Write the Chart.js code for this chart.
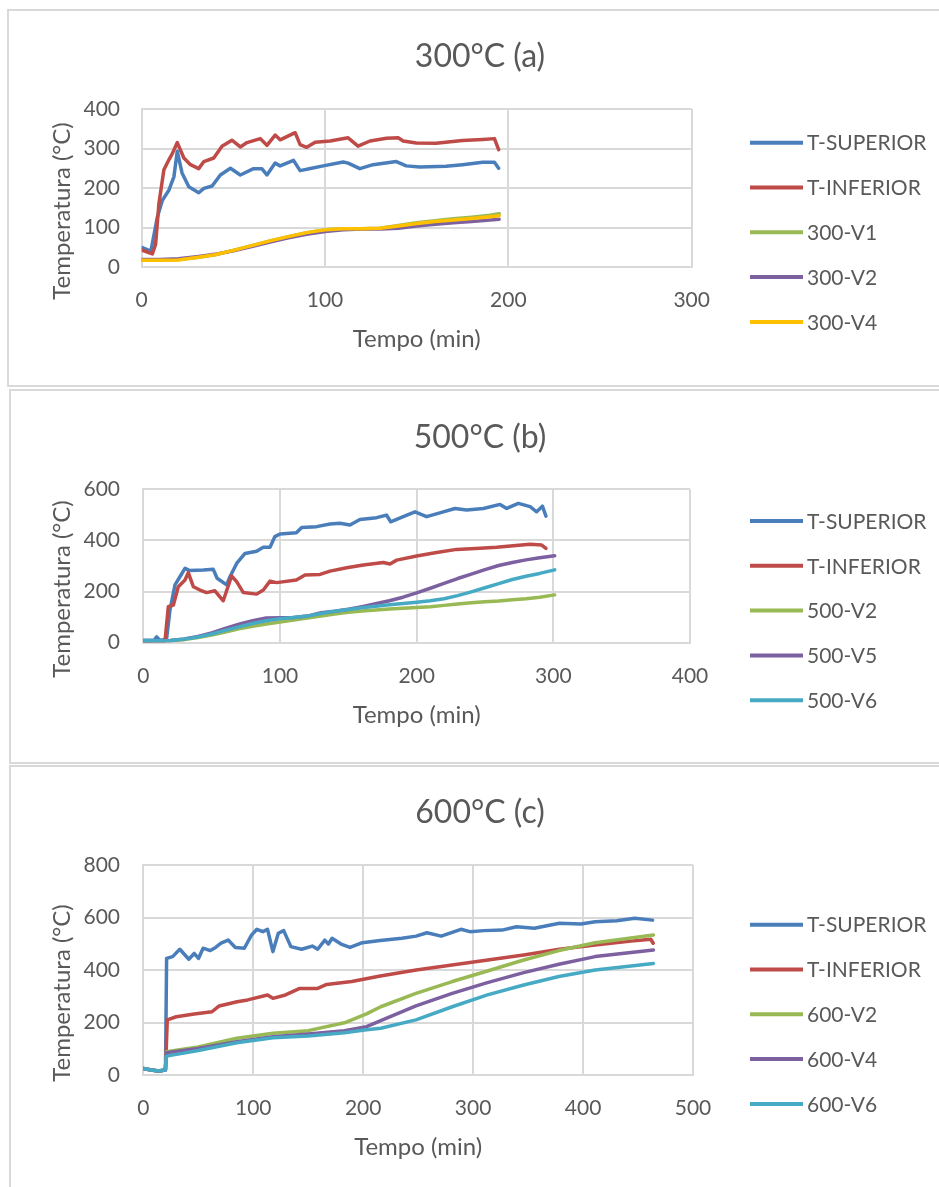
<!DOCTYPE html>
<html>
<head>
<meta charset="utf-8">
<title>Temperatura x Tempo</title>
<script src="https://cdn.jsdelivr.net/npm/chart.js@4.4.1/dist/chart.umd.min.js"></script>
<style>
  body { margin: 0; background: #fff; width: 939px; height: 1187px; overflow: hidden; position: relative; }
  .panel { position: absolute; border: 2px solid #d9d9d9; box-sizing: border-box; width: 1000px; }
  canvas { position: absolute; left: 0; }
</style>
</head>
<body>
<div class="panel" style="left:7px;top:9px;height:378px"></div>
<div class="panel" style="left:9px;top:389px;height:375px"></div>
<div class="panel" style="left:9px;top:765px;height:500px"></div>
<canvas id="c300" width="939" height="385" style="top:0"></canvas>
<canvas id="c500" width="939" height="375" style="top:387px"></canvas>
<canvas id="c600" width="939" height="423" style="top:764px"></canvas>
<script>
// ---- 300°C (a) ----
const t300Sup = [0, 5, 8.5, 11.3, 14.9, 17.6, 19.4, 22, 25.7, 31.1, 33.9, 38.4, 42.9, 48.4, 53.8, 61, 65.5, 68.3, 72.8, 75.5, 82.8, 86.4, 92.7, 99, 109.9, 112.6, 119, 126.2, 138.9, 144.3, 151.6, 166, 175, 186, 192.4, 194.7];
const v300Sup = [50, 40, 126, 169, 195, 229, 293, 238, 203, 188, 199, 205, 233, 250, 233, 249, 249, 233, 263, 256, 270, 244, 250, 256, 266, 263, 249, 259, 267, 256, 253, 255, 259, 265, 265, 250];
const t300Inf = [0, 5.8, 7.6, 9.4, 12.1, 14.9, 16.7, 19.4, 23, 26.6, 31.1, 33.9, 39.3, 43.8, 49.2, 53.8, 57.4, 64.7, 68.3, 72.8, 75.5, 83.7, 86.4, 90, 94.6, 102.7, 112.6, 118, 124.5, 133.5, 139.9, 142.6, 149.8, 160.6, 175, 186, 192.4, 194.7];
const v300Inf = [43, 33, 58, 161, 246, 272, 287, 315, 276, 259, 249, 267, 276, 306, 321, 304, 315, 325, 308, 334, 322, 340, 310, 303, 316, 319, 327, 306, 319, 326, 327, 319, 314, 313, 320, 323, 325, 297];
const t300V = [0, 10, 20, 30, 40, 50, 60, 70, 80, 90, 100, 110, 120, 130, 140, 150, 160, 170, 180, 190, 195];
const v300V1 = [18, 18, 19, 24, 31, 42, 54, 66, 77, 87, 94, 97, 97, 98, 105, 112, 117, 122, 126, 131, 135];
const v300V2 = [19, 19, 21, 26, 32, 41, 52, 63, 74, 83, 90, 94, 96, 96, 98, 104, 108, 112, 115, 119, 121];
const v300V4 = [17, 17, 18, 24, 31, 42, 54, 66, 77, 87, 94, 97, 97, 98, 104, 110, 115, 119, 123, 127, 130];

// ---- 500°C (b) ----
const t500Sup = [0, 8, 9.8, 12, 17, 19.5, 23.2, 26.8, 30.5, 34, 43.9, 51.2, 54, 61, 63.4, 68.3, 74.4, 82.9, 87.8, 92.7, 96.3, 100, 112, 115.9, 126.8, 136.6, 143.9, 151.2, 158.5, 170.7, 178, 181, 190.2, 198.8, 207.3, 217, 228, 236.6, 248.8, 261, 265.9, 274.4, 283, 287.8, 292, 294.6];
const v500Sup = [10, 10, 23, 10, 13, 128, 226, 258, 291, 282, 284, 287, 252, 226, 258, 310, 349, 358, 373, 373, 415, 425, 430, 451, 454, 464, 467, 460, 482, 489, 499, 473, 493, 512, 493, 508, 525, 519, 525, 541, 525, 545, 532, 512, 534, 495];
const t500Inf = [0, 15.9, 18.3, 22, 25.6, 30.5, 32.9, 36.6, 41.5, 46.3, 52.4, 58.5, 64.6, 68.3, 73.2, 82.9, 87.8, 92.7, 97.6, 112, 118.3, 129.3, 136.6, 148.8, 161, 175.6, 180.5, 185.4, 200, 214.6, 229.3, 246.3, 258.5, 270.7, 283, 291.5, 294.6];
const v500Inf = [8, 8, 141, 147, 219, 245, 274, 219, 206, 196, 203, 164, 261, 239, 196, 190, 206, 241, 235, 245, 265, 267, 280, 293, 304, 314, 308, 323, 339, 353, 365, 369, 373, 379, 385, 382, 369];
const t500V = [0, 20, 30, 40, 50, 60, 70, 80, 90, 100, 110, 120, 130, 140, 150, 160, 170, 180, 190, 200, 210, 220, 230, 240, 250, 260, 270, 280, 290, 301];
const v500V2 = [8, 9, 12, 20, 30, 42, 54, 64, 73, 81, 89, 97, 104, 112, 119, 124, 128, 132, 135, 138, 141, 146, 151, 156, 160, 163, 168, 172, 178, 187];
const v500V5 = [8, 9, 15, 24, 38, 56, 72, 86, 97, 98, 99, 104, 117, 123, 131, 141, 152, 164, 178, 195, 213, 232, 251, 268, 286, 302, 314, 324, 332, 340];
const v500V6 = [8, 9, 14, 22, 34, 48, 62, 75, 86, 94, 99, 104, 114, 123, 130, 137, 143, 148, 153, 158, 164, 172, 184, 199, 215, 231, 247, 260, 271, 285];

// ---- 600°C (c) ----
const t600Sup = [0, 7.2, 13.7, 20.2, 21.2, 26.7, 33.2, 41.4, 46.3, 50.2, 54.4, 60.9, 65.8, 70.7, 77.2, 83.7, 91.9, 98.4, 103.3, 108.8, 113, 117.9, 122.8, 127.7, 134.2, 144, 153.7, 158.6, 165.1, 168.4, 171.7, 179.8, 188, 199.3, 215.6, 235.2, 248.2, 258, 271, 288.9, 297, 310, 326.4, 339.4, 355.7, 378.5, 398, 411, 430.6, 447, 463.2];
const v600Sup = [25, 19, 15, 19, 444, 451, 479, 441, 463, 444, 483, 474, 486, 502, 514, 486, 483, 533, 555, 546, 555, 470, 540, 550, 489, 479, 491, 479, 514, 499, 521, 499, 486, 504, 512, 521, 529, 542, 529, 555, 546, 550, 552, 565, 559, 578, 575, 584, 588, 597, 590];
const t600Inf = [0, 7.2, 13.7, 20.2, 21.8, 30, 46.3, 62.5, 69, 85.3, 95, 113, 117.9, 129.3, 142.3, 158.6, 166.8, 189.6, 215.6, 248.2, 280.8, 313.4, 346, 378.5, 411, 443.6, 461.6, 463.8];
const v600Inf = [25, 19, 15, 19, 210, 222, 232, 241, 263, 279, 286, 305, 292, 305, 330, 330, 345, 356, 377, 400, 419, 438, 457, 479, 495, 510, 517, 502];
const t600V = [0, 7, 14, 20, 21, 50, 85, 118, 150, 183, 203, 216, 248, 281, 313, 346, 378, 411, 464];
const v600V2 = [25, 19, 15, 19, 89, 107, 140, 159, 169, 199, 233, 260, 311, 356, 396, 438, 474, 504, 533];
const v600V4 = [25, 19, 15, 19, 85, 101, 127, 146, 156, 169, 184, 207, 263, 311, 352, 390, 422, 451, 476];
const v600V6 = [25, 19, 15, 19, 72, 93, 123, 142, 149, 161, 172, 178, 210, 260, 305, 343, 375, 400, 425];

const BLUE = '#4a7ebb', RED = '#be4b48', GREEN = '#98b954', PURPLE = '#7d60a0', YELLOW = '#ffc000', CYAN = '#46aac5';
const TEXT = '#595959', GRID = '#d9d9d9';
const FONT = 'Lato, "Open Sans", sans-serif';

function pts(ts, vs) {
  return ts.map((t, i) => ({ x: t, y: vs[i] }));
}

function series(label, color, ts, vs, i) {
  return { label, data: pts(ts, vs), borderColor: color, backgroundColor: color, order: -i };
}

// title, y axis title and legend drawn on top of the chart
const decor = {
  id: 'decor',
  afterDraw(chart, args, o) {
    const ctx = chart.ctx, a = chart.chartArea;
    ctx.save();
    ctx.fillStyle = TEXT;
    ctx.textAlign = 'center';
    ctx.textBaseline = 'middle';
    ctx.font = '32px ' + FONT;
    ctx.fillText(o.title, 480, a.top - 52);

    ctx.save();
    ctx.translate(62, (a.top + a.bottom) / 2 + 23);
    ctx.rotate(-Math.PI / 2);
    ctx.font = '24px ' + FONT;
    ctx.fillText('Temperatura (°C)', 0, 0);
    ctx.restore();

    ctx.textAlign = 'left';
    ctx.font = '21px ' + FONT;
    chart.data.datasets.forEach((ds, i) => {
      const y = o.legendTop + i * 44.8;
      ctx.strokeStyle = ds.borderColor;
      ctx.lineWidth = 4;
      ctx.beginPath();
      ctx.moveTo(750, y);
      ctx.lineTo(803, y);
      ctx.stroke();
      ctx.fillText(ds.label, 807, y + 1);
    });
    ctx.restore();
  }
};

function build(id, L, datasets) {
  const tickFont = { family: FONT, size: 21 };
  return new Chart(document.getElementById(id), {
    type: 'line',
    data: { datasets },
    options: {
      responsive: false,
      animation: false,
      layout: { padding: { left: L.left - 100, right: 939 - L.right, top: L.top, bottom: L.height - L.bottom - 90 } },
      elements: {
        point: { radius: 0 },
        line: { borderWidth: 3.5, tension: 0, borderCapStyle: 'round', borderJoinStyle: 'round' }
      },
      plugins: {
        legend: { display: false },
        tooltip: { enabled: false },
        decor: { title: L.title, legendTop: L.legendTop }
      },
      scales: {
        x: {
          type: 'linear', min: 0, max: L.xMax,
          afterFit: s => { s.height = 90; },
          ticks: { stepSize: 100, padding: 21, color: TEXT, font: tickFont },
          grid: { color: GRID, lineWidth: 2, drawTicks: false },
          border: { color: GRID, width: 2 },
          title: { display: true, text: 'Tempo (min)', color: TEXT, font: { family: FONT, size: 24 }, padding: { top: 0, bottom: 3 } }
        },
        y: {
          type: 'linear', min: 0, max: L.yMax,
          afterFit: s => { s.width = 100; },
          ticks: { stepSize: L.yStep, padding: L.left - 120, color: TEXT, font: tickFont },
          grid: { color: GRID, lineWidth: 2, drawTicks: false },
          border: { color: GRID, width: 2 }
        }
      }
    },
    plugins: [decor]
  });
}

build('c300', { title: '300°C (a)', left: 141.7, right: 691.7, top: 109, bottom: 267, height: 385, xMax: 300, yMax: 400, yStep: 100, legendTop: 142.7 }, [
  series('T-SUPERIOR', BLUE, t300Sup, v300Sup, 0),
  series('T-INFERIOR', RED, t300Inf, v300Inf, 1),
  series('300-V1', GREEN, t300V, v300V1, 2),
  series('300-V2', PURPLE, t300V, v300V2, 3),
  series('300-V4', YELLOW, t300V, v300V4, 4)
]);

build('c500', { title: '500°C (b)', left: 143.3, right: 690, top: 102.3, bottom: 255.7, height: 375, xMax: 400, yMax: 600, yStep: 200, legendTop: 134 }, [
  series('T-SUPERIOR', BLUE, t500Sup, v500Sup, 0),
  series('T-INFERIOR', RED, t500Inf, v500Inf, 1),
  series('500-V2', GREEN, t500V, v500V2, 2),
  series('500-V5', PURPLE, t500V, v500V5, 3),
  series('500-V6', CYAN, t500V, v500V6, 4)
]);

build('c600', { title: '600°C (c)', left: 143.3, right: 693, top: 101, bottom: 311, height: 423, xMax: 500, yMax: 800, yStep: 200, legendTop: 160.7 }, [
  series('T-SUPERIOR', BLUE, t600Sup, v600Sup, 0),
  series('T-INFERIOR', RED, t600Inf, v600Inf, 1),
  series('600-V2', GREEN, t600V, v600V2, 2),
  series('600-V4', PURPLE, t600V, v600V4, 3),
  series('600-V6', CYAN, t600V, v600V6, 4)
]);
</script>
</body>
</html>
